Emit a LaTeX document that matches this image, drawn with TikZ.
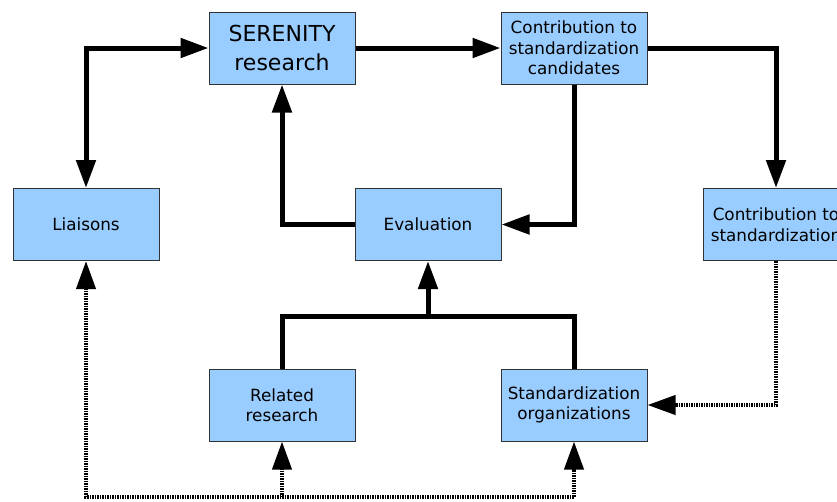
\documentclass[tikz,border=0pt]{standalone}
\usepackage{fontspec}
\setmainfont{DejaVu Sans}
\usetikzlibrary{arrows.meta}
\definecolor{boxblue}{HTML}{99CCFF}
\definecolor{boxline}{HTML}{333333}

\begin{document}
\begin{tikzpicture}[x=1pt, y=-1pt, box/.style={draw=boxline, fill=boxblue, line width=1pt, minimum width=146pt, minimum height=72pt, inner sep=0pt, align=center, font=\fontsize{16.8}{20.5}\selectfont}, big/.style={font=\fontsize{22}{29}\selectfont}, n/.style={-{Triangle[length=28pt, width=19pt]}, line width=5pt}, d/.style={-{Triangle[length=28pt, width=19pt]}, line width=4pt, dash pattern=on 1.5pt off 1pt}]
            \clip (0,0) rectangle (837,501);
            % nodes
            \node[box, big] (ser) at (282,48) {SERENITY\\research};
            \node[box] (cand) at (574,48) {Contribution to\\standardization\\candidates};
            \node[box] (lia) at (86,224.5) {Liaisons};
            \node[box] (eval) at (428,224.5) {Evaluation};
            \node[box] (contr) at (776,224.5) {Contribution to\\standardization};
            \node[box] (rel) at (282,405) {Related\\research};
            \node[box] (org) at (574,405) {Standardization\\organizations};
            \coordinate (mid) at (428,316);
            \coordinate (b2) at (574,497);
            \coordinate (b1) at (282,497);
            % edges
            \draw [n, {Triangle[length=28pt, width=19pt]}-{Triangle[length=28pt, width=19pt]}] (lia.north) |- (ser.west);
            \draw [n] (ser) -- (cand);
            \draw [n] (cand.east) -| (contr.north);
            \draw [n] (cand.south) |- (eval.east);
            \draw [n] (eval.west) -| (ser.south);
            \draw [line width=5pt] (rel.north) |- (mid) -| (org.north);
            \draw [n] (mid) -- (eval.south);
            % dotted edges
            \draw [d] (contr.south) |- (org.east);
            \draw [d, {Triangle[length=28pt, width=19pt]}-{Triangle[length=28pt, width=19pt]}] (lia.south) |- (b2) -- (org.south);
            \draw [d] (b1) -- (rel.south);
        \end{tikzpicture}
\end{document}
